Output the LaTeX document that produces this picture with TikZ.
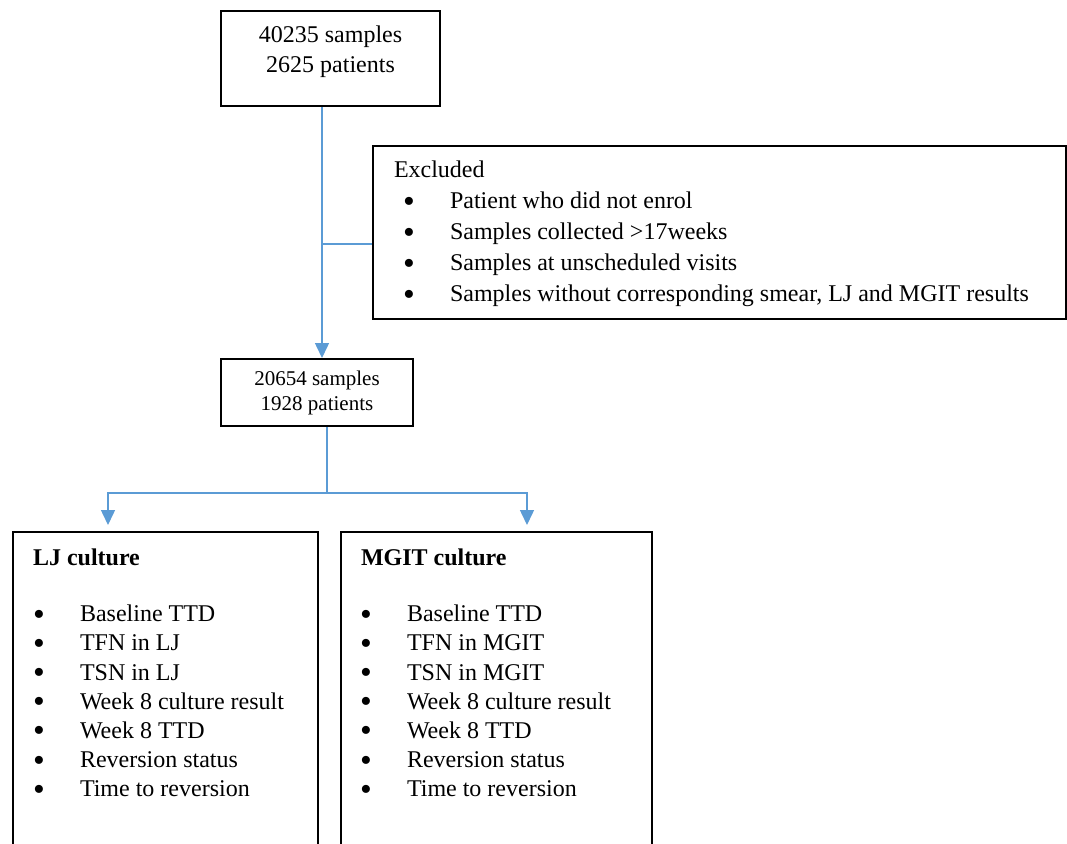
\documentclass[tikz,border=0pt]{standalone}
\usepackage{fontspec}
\setmainfont{Liberation Serif}
\usepackage{xcolor}
\usepackage{graphicx}
\usetikzlibrary{arrows.meta}
\definecolor{linkblue}{HTML}{5B9BD5}
\newcommand{\bitem}[1]{\makebox[47pt][l]{\raisebox{-3.5pt}{\scalebox{1.4}{\textbullet}}}#1}

\begin{document}
\begin{tikzpicture}[x=1pt, y=-1pt,
  box/.style={draw=black, line width=2pt, inner sep=0pt},
  link/.style={draw=linkblue, line width=1.5pt},
  conn/.style={link, -{Triangle[length=15pt, width=14pt]}},
]
\useasboundingbox (0,0) rectangle (1067,843);
\clip (0,0) rectangle (1067,843);
% boxes
\node[box, anchor=north west] (top) at (220,10) {%
  \begin{minipage}[t][95pt][t]{219pt}\fontsize{24}{30}\selectfont\centering
  \vspace*{15pt}40235 samples\\2625 patients\end{minipage}};
\node[box, anchor=north west] (excl) at (372,145) {%
  \begin{minipage}[t][173pt][t]{693pt}\fontsize{24}{31}\selectfont\raggedright
  \vspace*{15pt}\hspace*{21pt}Excluded\\
  \hspace*{30pt}\bitem{Patient who did not enrol}\\
  \hspace*{30pt}\bitem{Samples collected >17weeks}\\
  \hspace*{30pt}\bitem{Samples at unscheduled visits}\\
  \hspace*{30pt}\bitem{Samples without corresponding smear, LJ and MGIT results}\end{minipage}};
\node[box, anchor=north west, minimum width=192pt, minimum height=67pt,
  align=center, font=\fontsize{21}{25}\selectfont] (mid) at (220,358)
  {20654 samples\\1928 patients};
\node[box, anchor=north west] (lj) at (12,531) {%
  \begin{minipage}[t][340pt][t]{305pt}\fontsize{24}{29.2}\selectfont\raggedright
  \vspace*{17pt}\hspace*{20pt}\textbf{LJ culture}\\[26.8pt]
  \hspace*{20pt}\bitem{Baseline TTD}\\
  \hspace*{20pt}\bitem{TFN in LJ}\\
  \hspace*{20pt}\bitem{TSN in LJ}\\
  \hspace*{20pt}\bitem{Week 8 culture result}\\
  \hspace*{20pt}\bitem{Week 8 TTD}\\
  \hspace*{20pt}\bitem{Reversion status}\\
  \hspace*{20pt}\bitem{Time to reversion}\end{minipage}};
\node[box, anchor=north west] (mgit) at (340,531) {%
  \begin{minipage}[t][340pt][t]{311pt}\fontsize{24}{29.2}\selectfont\raggedright
  \vspace*{17pt}\hspace*{20pt}\textbf{MGIT culture}\\[26.8pt]
  \hspace*{19pt}\bitem{Baseline TTD}\\
  \hspace*{19pt}\bitem{TFN in MGIT}\\
  \hspace*{19pt}\bitem{TSN in MGIT}\\
  \hspace*{19pt}\bitem{Week 8 culture result}\\
  \hspace*{19pt}\bitem{Week 8 TTD}\\
  \hspace*{19pt}\bitem{Reversion status}\\
  \hspace*{19pt}\bitem{Time to reversion}\end{minipage}};
% connectors
\coordinate (trunk) at (322,0);
\coordinate (split) at (322,244);
\coordinate (fork) at (327,493);
\coordinate (ljin) at (108,0);
\coordinate (mgitin) at (527,0);
\draw[conn] (top.south -| trunk) -- (mid.north -| trunk);
\draw[link] (split) -- (split -| excl.west);
\draw[link] (mid.south -| fork) -- (fork);
\draw[conn, shorten >=6pt] (fork) -| (lj.north -| ljin);
\draw[conn, shorten >=6pt] (fork) -| (mgit.north -| mgitin);
\end{tikzpicture}
\end{document}
